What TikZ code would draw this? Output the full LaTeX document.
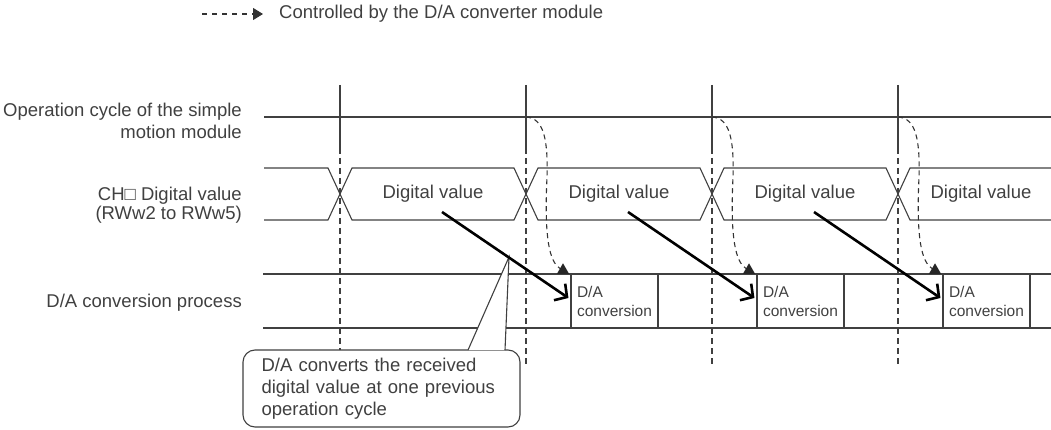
\documentclass[tikz,border=0pt]{standalone}
\usepackage{fontspec}
\setmainfont{Liberation Sans}
\usetikzlibrary{arrows.meta,shapes.geometric}
\definecolor{ink}{HTML}{404040}

\begin{document}
\begin{tikzpicture}[
  x=1pt,y=-1pt,
  txt/.style={font=\fontsize{18.5}{22}\selectfont,text=ink,inner sep=0pt},
  sig/.style={txt,anchor=east,align=right},
  wave/.style={draw=ink,line width=1.1pt},
  cycdash/.style={wave,dash pattern=on 6pt off 4pt},
  conv/.style={draw=ink,line width=1.1pt,minimum width=87pt,minimum height=54pt,
               inner sep=0pt,align=left,font=\fontsize{15.5}{19}\selectfont,text=ink},
  hat/.style={regular polygon,regular polygon sides=3,minimum size=14pt,
              inner sep=0pt,fill=black!85,anchor=side 2},
  ctrl/.style={draw=black!80,line width=1.1pt,dash pattern=on 5pt off 4pt},
  flow/.style={-{Straight Barb[length=9pt,width=20pt]},line width=2.6pt},
  note/.style={txt,draw=ink,line width=1.1pt,fill=white,rounded corners=12pt,
               minimum width=277pt,minimum height=77pt,text width=240pt,align=left}
]
\useasboundingbox (0,0) rectangle (1051,430);

% legend
\node[txt,anchor=west,inner xsep=16pt] (key) at (263,14) {Controlled by the D/A converter module};
\coordinate (keytail) at (202,14);
\draw[ctrl,dash pattern=on 5pt off 5pt,-{Triangle[length=10pt,width=12pt]}] (keytail) -- (key);

% signal names
\node[sig] (opcycle) at (242,121) {Operation cycle of the simple\\motion module};
\node[sig,font=\fontsize{18.5}{19.5}\selectfont] (digin) at (242,205) {CH□ Digital value\\(RWw2 to RWw5)};
\node[sig] (daproc) at (242,303) {D/A conversion process};

% cycle marks
\draw[wave] (340,85) -- (340,148) (526,85) -- (526,148) (712,85) -- (712,148) (898,85) -- (898,148);
\draw[cycdash] (340,148) -- (340,366) (526,148) -- (526,366) (712,148) -- (712,366) (898,148) -- (898,366);
\coordinate (c2) at (526,117);
\coordinate (c3) at (712,117);
\coordinate (c4) at (898,117);

% waveforms
\draw[wave] (264,117) -- (1051,117);
\draw[wave] (264,168) -- (328,168) -- (352,220) -- (514,220) -- (538,168) -- (700,168)
  -- (724,220) -- (886,220) -- (910,168) -- (1051,168);
\draw[wave] (264,220) -- (328,220) -- (352,168) -- (514,168) -- (538,220) -- (700,220)
  -- (724,168) -- (886,168) -- (910,220) -- (1051,220);
\draw[wave] (263,274) -- (1051,274) (263,328) -- (1051,328);

\node[txt] (dv1) at (433,194) {Digital value};
\node[txt] (dv2) at (619,194) {Digital value};
\node[txt] (dv3) at (805,194) {Digital value};
\node[txt] (dv4) at (981,194) {Digital value};

\node[conv] (da1) at (614.5,301) {D/A\\conversion};
\node[conv] (da2) at (800.5,301) {D/A\\conversion};
\node[conv] (da3) at (986.5,301) {D/A\\conversion};

\node[hat] (t1) at (563,274) {};
\node[hat] (t2) at (749,274) {};
\node[hat] (t3) at (935,274) {};

% controlled by the module
\draw[ctrl] (c2) .. controls +(18,1) and +(1,-37) .. ++(21,60) .. controls +(-3,63) and +(-10,-7) .. (t1.side 1);
\draw[ctrl] (c3) .. controls +(18,1) and +(1,-37) .. ++(21,60) .. controls +(-3,63) and +(-10,-7) .. (t2.side 1);
\draw[ctrl] (c4) .. controls +(18,1) and +(1,-37) .. ++(21,60) .. controls +(-3,63) and +(-10,-7) .. (t3.side 1);

% note
\node[note] (callout) at (381.5,388.5) {D/A converts the received\\digital value at one previous\\operation cycle};
\coordinate (tip) at (509,257);
\draw[wave,fill=white] ([shift={(86.5,0.6)}]callout.north) -- (tip) -- ([shift={(123.5,0.6)}]callout.north);

\draw[flow] ([shift={(9,18)}]dv1.center) -- ([shift={(-2,-3)}]da1.west);
\draw[flow] ([shift={(9,18)}]dv2.center) -- ([shift={(-2,-3)}]da2.west);
\draw[flow] ([shift={(9,18)}]dv3.center) -- ([shift={(-2,-3)}]da3.west);
\end{tikzpicture}
\end{document}
